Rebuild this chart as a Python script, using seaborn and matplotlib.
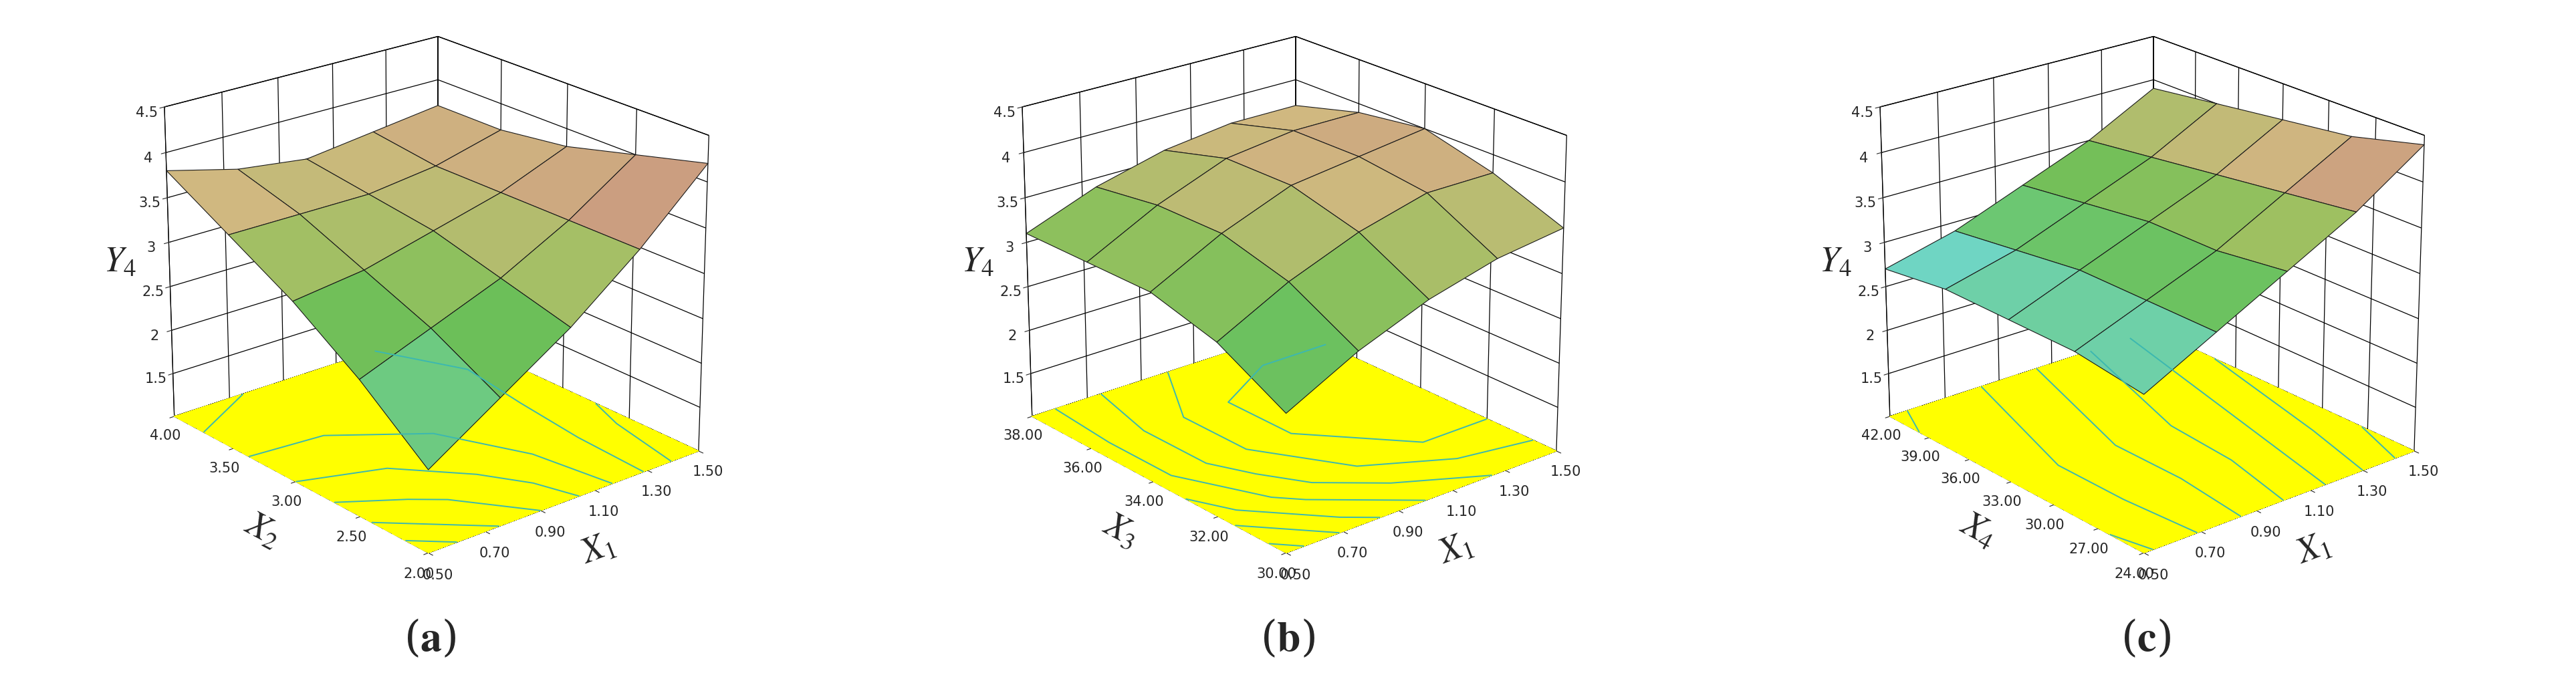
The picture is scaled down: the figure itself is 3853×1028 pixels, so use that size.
import numpy as np
import matplotlib
matplotlib.use('Agg')
import matplotlib.pyplot as plt
import seaborn as sns
from matplotlib.colors import LinearSegmentedColormap

sns.set_style('white')
plt.rcParams['font.family'] = ['DejaVu Sans']
plt.rcParams['mathtext.fontset'] = 'stix'

# common factor X1 (rows of each grid)
x1 = [0.50, 0.75, 1.00, 1.25, 1.50]
x1_ticks = [0.50, 0.70, 0.90, 1.10, 1.30, 1.50]

# panel (a): X2
x2 = [2.0, 2.5, 3.0, 3.5, 4.0]
x2_ticks = [2.00, 2.50, 3.00, 3.50, 4.00]
y4_a = [[1.9, 2.5, 3.0, 3.4, 3.8],
        [2.4, 2.8, 3.1, 3.4, 3.6],
        [2.9, 3.1, 3.3, 3.4, 3.5],
        [3.5, 3.5, 3.5, 3.5, 3.6],
        [4.2, 4.0, 3.8, 3.7, 3.7]]

# panel (b): X3
x3 = [30.0, 32.0, 34.0, 36.0, 38.0]
x3_ticks = [30.00, 32.00, 34.00, 36.00, 38.00]
y4_b = [[2.5, 2.9, 3.1, 3.1, 3.1],
        [2.9, 3.3, 3.5, 3.5, 3.4],
        [3.2, 3.6, 3.8, 3.8, 3.6],
        [3.4, 3.8, 3.9, 3.9, 3.7],
        [3.5, 3.8, 4.0, 3.9, 3.7]]

# panel (c): X4
x4 = [24.0, 28.5, 33.0, 37.5, 42.0]
x4_ticks = [24.00, 27.00, 30.00, 33.00, 36.00, 39.00, 42.00]
y4_c = [[2.7, 2.8, 2.8, 2.8, 2.7],
        [3.1, 3.1, 3.1, 3.0, 2.9],
        [3.5, 3.4, 3.4, 3.3, 3.2],
        [3.9, 3.8, 3.7, 3.6, 3.5],
        [4.4, 4.2, 4.1, 4.0, 3.9]]

z_ticks = [1.5, 2, 2.5, 3, 3.5, 4, 4.5]

cmap = LinearSegmentedColormap.from_list(
    'rsm', ['#4555a8', '#70d8d8', '#6cc874', '#6cbf58', '#9cc060', '#d0b880', '#c89080', '#3a2a2a'])

fig = plt.figure(figsize=(38.53, 10.28), dpi=100)

panels = [
    (y4_a, x2, x2_ticks, r'$X_2$', '(a)', 1.7, 4.3),
    (y4_b, x3, x3_ticks, r'$X_3$', '(b)', 1.8, 4.6),
    (y4_c, x4, x4_ticks, r'$X_4$', '(c)', 2.5, 4.5),
]

for i, (zvals, fac, fac_ticks, fac_lab, tag, vmin, vmax) in enumerate(panels):
    ax = fig.add_axes([-0.005 + i * 0.333, 0.13, 0.34, 0.9], projection='3d',
                      computed_zorder=False)
    X, Y = np.meshgrid(x1, fac, indexing='ij')
    Z = np.array(zvals)
    ax.contourf(X, Y, Z, zdir='z', offset=1.0, levels=[0, 10], colors=['#ffff00'])
    ax.contour(X, Y, Z, zdir='z', offset=1.0, levels=7, colors=['#3cb8b0'], linewidths=1.4)
    ax.plot_surface(X, Y, Z, cmap=cmap, vmin=vmin, vmax=vmax,
                    edgecolor='#1a1a1a', linewidth=0.8, antialiased=True, shade=False)

    ax.set_xlim(0.5, 1.5)
    ax.set_ylim(fac[0], fac[-1])
    ax.set_zlim(1.0, 4.5)
    ax.set_xticks(x1_ticks)
    ax.set_xticklabels([f'{v:.2f}' for v in x1_ticks], fontsize=15)
    ax.set_yticks(fac_ticks)
    ax.set_yticklabels([f'{v:.2f}' for v in fac_ticks], fontsize=15)
    ax.set_zticks(z_ticks)
    ax.set_zticklabels([f'{v:g}' for v in z_ticks], fontsize=15)
    ax.set_xlabel(r'$X_1$', fontsize=38, labelpad=16)
    ax.set_ylabel(fac_lab, fontsize=38, labelpad=20)
    ax.zaxis.set_rotate_label(False)
    ax.set_zlabel(r'$Y_4$', fontsize=38, labelpad=12, rotation=0)

    for axis in (ax.xaxis, ax.yaxis, ax.zaxis):
        axis.set_pane_color((1, 1, 1, 1))
        axis.pane.set_edgecolor('black')
        axis._axinfo['grid']['color'] = 'black'
        axis._axinfo['grid']['linewidth'] = 0.9
        axis.line.set_color('black')
    ax.grid(True)
    ax.view_init(elev=22, azim=-130)
    ax.set_box_aspect((1, 1.15, 0.95), zoom=1.0)

    fig.text(0.167 + i * 0.333, 0.07, tag[0] + r'$\mathbf{' + tag[1] + '}$' + tag[2],
             ha='center', va='center', fontsize=46, family='serif')

fig.savefig('out.png', dpi=100)
